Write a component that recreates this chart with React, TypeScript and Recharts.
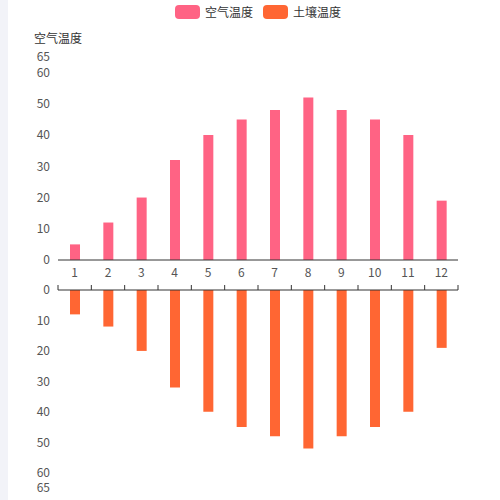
import React from "react";
import { BarChart, Bar, XAxis, YAxis } from "recharts";

const months = ["1", "2", "3", "4", "5", "6", "7", "8", "9", "10", "11", "12"];
const airTemp = [5, 12, 20, 32, 40, 45, 48, 52, 48, 45, 40, 19];
const soilTemp = [8, 12, 20, 32, 40, 45, 48, 52, 48, 45, 40, 19];
const yTicks = [0, 10, 20, 30, 40, 50, 60, 65];
const boundaryTicks = [0, 1, 2, 3, 4, 5, 6, 7, 8, 9, 10, 11, 12];

// slot = category centre on a 0..12 numeric scale, used only for the boundary tick axis
const data = months.map((m, i) => ({ month: m, slot: i + 0.5, air: airTemp[i], soil: soilTemp[i] }));

const FONT = "'Noto Sans CJK SC', 'Noto Sans', sans-serif";
const AIR = "#ff6384";
const SOIL = "#ff6633";

const legendItems = [
  { name: "空气温度", color: AIR },
  { name: "土壤温度", color: SOIL },
];

const tickStyle = { fill: "#555", fontSize: 12, fontFamily: FONT };

export default function App() {
  return (
    <div style={{ position: "absolute", left: 0, top: 0, width: 500, height: 500, background: "#fff", fontFamily: FONT }}>
      <div style={{ position: "absolute", left: 0, top: 0, width: 8, height: 500, background: "#f2f3f8" }} />

      <div style={{ position: "absolute", left: 8, top: 3, width: 500, display: "flex", justifyContent: "center", gap: 10, fontSize: 12, color: "#333", lineHeight: "18px" }}>
        {legendItems.map((it) => (
          <div key={it.name} style={{ display: "flex", alignItems: "center", gap: 5 }}>
            <span style={{ width: 25, height: 14, borderRadius: 4, background: it.color, display: "inline-block" }} />
            <span>{it.name}</span>
          </div>
        ))}
      </div>

      <div style={{ position: "absolute", left: 34, top: 29, fontSize: 12, color: "#333" }}>空气温度</div>

      <div style={{ position: "absolute", left: 0, top: 0 }}>
        <BarChart width={500} height={290} data={data} margin={{ top: 57, right: 42, left: 8, bottom: 0 }}>
          <XAxis
            dataKey="month"
            height={30}
            axisLine={{ stroke: "#333" }}
            tickLine={false}
            tick={tickStyle}
            interval={0}
          />
          <YAxis
            width={50}
            domain={[0, 65]}
            ticks={yTicks}
            axisLine={false}
            tickLine={false}
            tick={tickStyle}
            interval={0}
          />
          <Bar dataKey="air" fill={AIR} barSize={10} isAnimationActive={false} />
        </BarChart>
      </div>

      <div style={{ position: "absolute", left: 0, top: 260 }}>
        <BarChart width={500} height={240} data={data} margin={{ top: 0, right: 42, left: 8, bottom: 12 }}>
          <XAxis
            xAxisId="edge"
            dataKey="slot"
            type="number"
            orientation="top"
            height={30}
            domain={[0, 12]}
            ticks={boundaryTicks}
            interval={0}
            allowDataOverflow
            axisLine={{ stroke: "#333" }}
            tickLine={{ stroke: "#333" }}
            tickSize={5}
            tickFormatter={() => ""}
          />
          <XAxis dataKey="month" xAxisId="cat" orientation="top" height={0} hide />
          <YAxis
            width={50}
            reversed
            domain={[0, 65]}
            ticks={yTicks}
            axisLine={false}
            tickLine={false}
            tick={tickStyle}
            interval={0}
          />
          <Bar dataKey="soil" xAxisId="cat" fill={SOIL} barSize={10} isAnimationActive={false} />
        </BarChart>
      </div>
    </div>
  );
}
